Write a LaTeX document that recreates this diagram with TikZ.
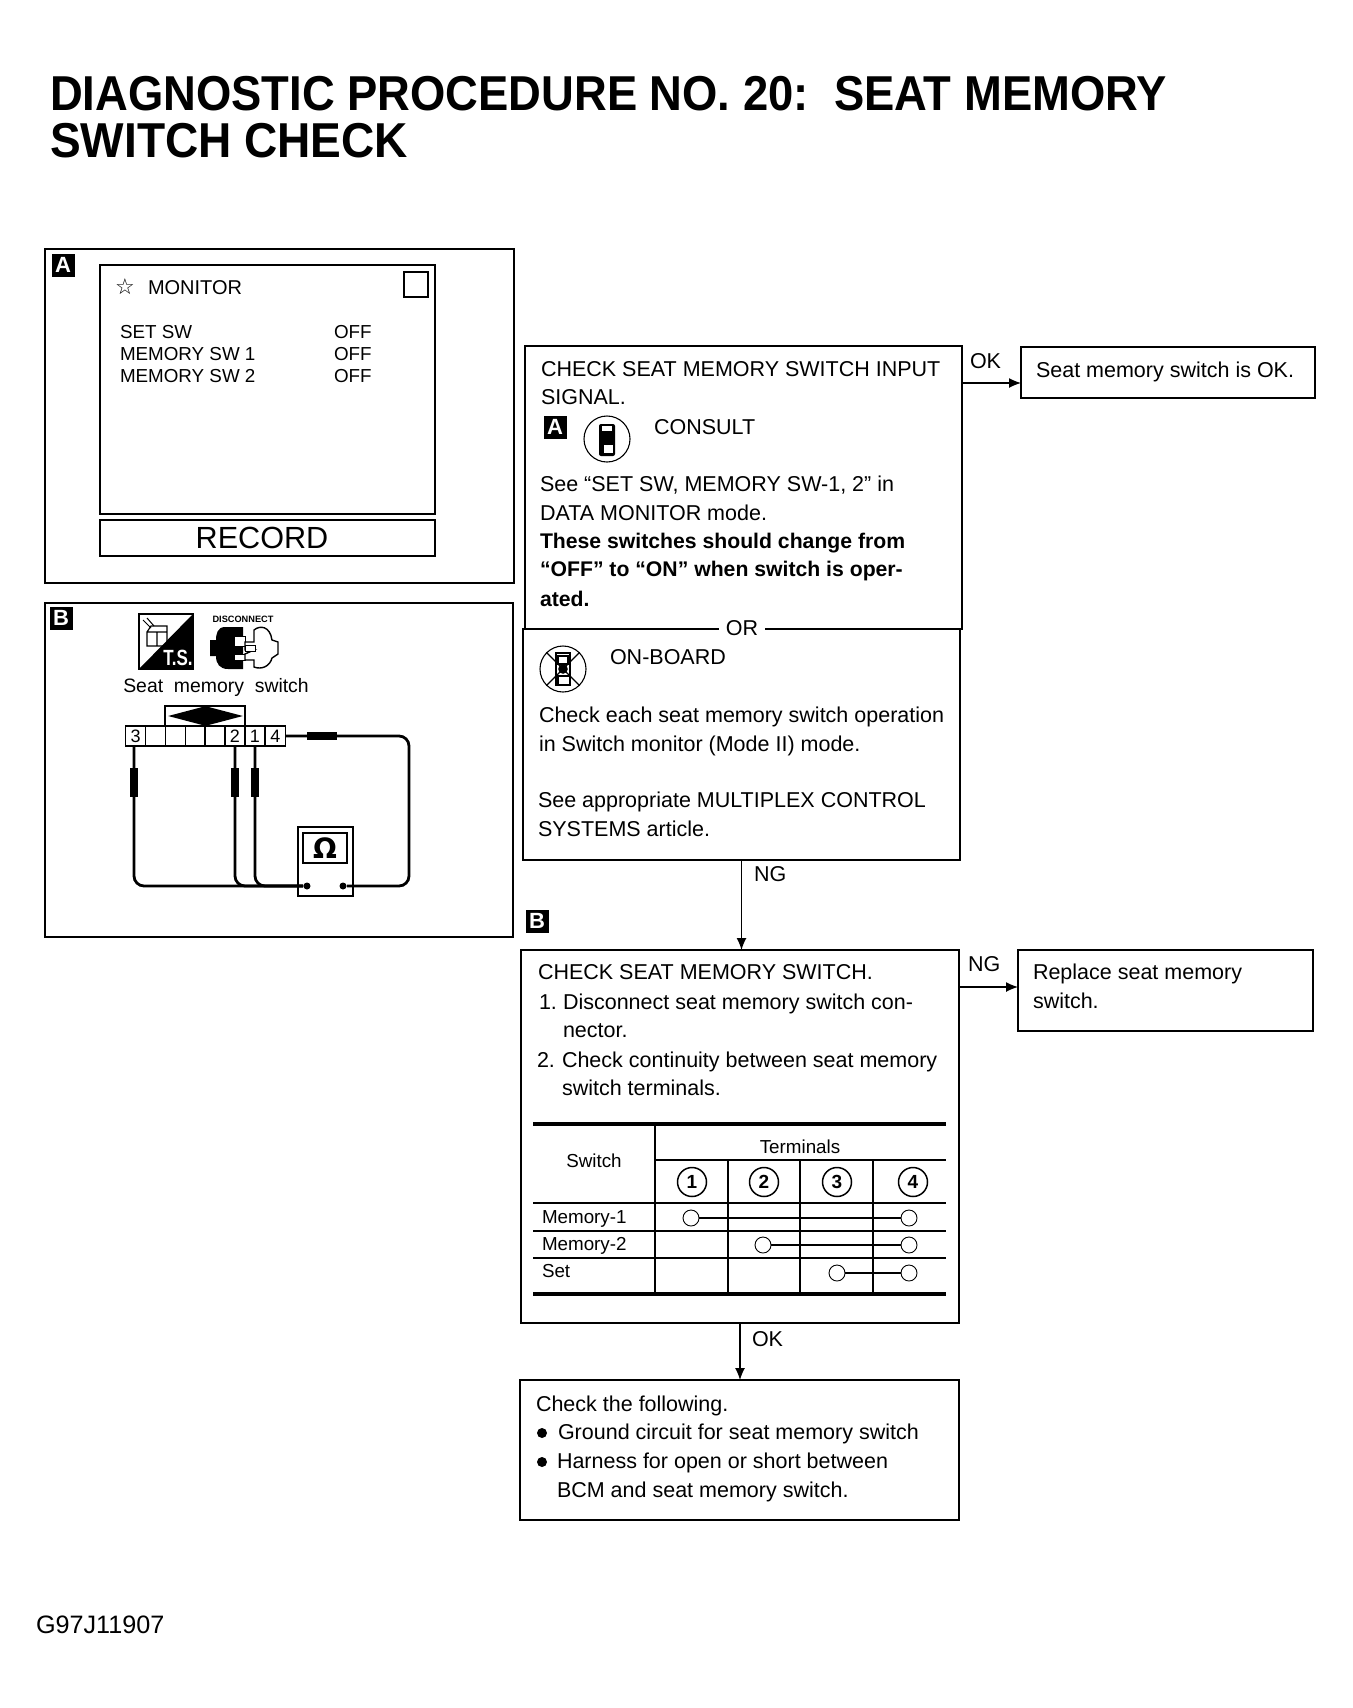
\documentclass[tikz,border=0pt]{standalone}
\usepackage{fontspec}
\setmainfont{Liberation Sans}
\newfontfamily\symfont{DejaVu Sans}
\usetikzlibrary{arrows.meta,calc,shapes.geometric}
\newcommand{\bx}[6][]{%
  \pgfmathsetmacro{\bxw}{(#5-#3)*0.5}\pgfmathsetmacro{\bxh}{(#6-#4)*0.5}%
  \node[boxn,minimum width=\bxw pt,minimum height=\bxh pt,#1] (#2) at ({(#3+#5)/2},{(#4+#6)/2}) {};}
\newcommand{\tx}[5][]{\node[txt,#1] (#2) at (#3,#4) {#5};}
\tikzset{
  boxn/.style={draw=black,line width=0.65pt,inner sep=0pt,outer sep=0pt,fill=none},
  txt/.style={anchor=base west,inner sep=0pt,outer sep=0pt,font=\fontsize{10.75}{13}\selectfont},
  bold/.style={font=\fontsize{10.6}{13}\selectfont\bfseries},
  small/.style={font=\fontsize{9.4}{11}\selectfont},
  ttl/.style={font=\fontsize{24.5}{28}\selectfont\bfseries},
  tag/.style={fill=black,text=white,font=\fontsize{11}{11}\selectfont\bfseries,minimum size=11.5pt,inner sep=0pt,outer sep=0pt},
  conn/.style={line width=0.65pt,-{Latex[length=6pt,width=5pt]}},
  tline/.style={line width=0.7pt},
  tthick/.style={line width=1.9pt},
  numc/.style={circle,draw=black,line width=0.75pt,minimum size=14.5pt,inner sep=0pt,font=\fontsize{9.5}{10}\selectfont\bfseries},
  open/.style={circle,draw=black,fill=white,line width=0.45pt,minimum size=8pt,inner sep=0pt},
  cell/.style={draw=black,line width=0.6pt,minimum width=10pt,minimum height=10pt,inner sep=0pt,outer sep=0pt,font=\fontsize{9}{9}\selectfont},
  wire/.style={line width=1.4pt,rounded corners=5pt},
  probev/.style={fill=black,minimum width=4pt,minimum height=14.5pt,inner sep=0pt},
  probeh/.style={fill=black,minimum width=15pt,minimum height=4pt,inner sep=0pt},
  term/.style={circle,fill=black,minimum size=3.5pt,inner sep=0pt},
}
\begin{document}
\begin{tikzpicture}[x=0.5pt,y=-0.5pt]
\useasboundingbox (0,0) rectangle (1353,1708);
\fill[white] (0,0) rectangle (1353,1708);

% title
\tx[ttl]{t1}{50}{110}{\scalebox{0.926}[1]{DIAGNOSTIC PROCEDURE NO. 20:\ \ SEAT MEMORY}}
\tx[ttl]{t2}{50}{157}{\scalebox{0.94}[1]{SWITCH CHECK}}

% panel A
\bx{panelA}{45}{249}{514}{583}
\node[tag] (tagA) at (63,265) {A};
\bx{screen}{100}{265}{435}{514}
\bx{chk}{404}{272}{428}{297}
\node[txt,anchor=center,font=\symfont\fontsize{11}{11}\selectfont] (star) at (125,287) {☆};
\tx[font=\fontsize{10}{12}\selectfont]{mon}{148}{294}{MONITOR}
\tx[small]{r1}{120}{338}{SET SW}
\tx[small]{r2}{120}{360}{MEMORY SW 1}
\tx[small]{r3}{120}{382}{MEMORY SW 2}
\tx[small]{o1}{334}{338}{OFF}
\tx[small]{o2}{334}{360}{OFF}
\tx[small]{o3}{334}{382}{OFF}
\bx{recbox}{100}{520}{435}{556}
\node[txt,anchor=center,font=\fontsize{15.3}{18}\selectfont] (rec) at (262,538) {RECORD};

% panel B
\bx{panelB}{45}{603}{513}{937}
\node[tag] (tagB) at (61,618) {B};
% T.S. icon
\draw[line width=0.6pt] (139,614) rectangle (193,669);
\fill (193,614) -- (193,669) -- (139,669) -- cycle;
\draw[line width=0.6pt] (147,632) rectangle (167,646) (157,632) -- (157,646) (147,632) -- (151,626) -- (167,626) -- (167,632);
\draw[line width=0.5pt] (143,620) -- (151,628) (147,618) -- (154,626);
\node[txt,anchor=center,text=white,font=\fontsize{10}{10}\selectfont\bfseries] (ts) at (178,658) {\scalebox{0.85}[1.1]{T.S.}};
% disconnect icon
\node[txt,anchor=center,font=\fontsize{4.6}{5}\selectfont\bfseries] (disc) at (243,619) {DISCONNECT};
\fill (243,627) -- (225,627) .. controls (217,627) and (216,635) .. (216,640) -- (210,640) -- (210,656) -- (216,656) .. controls (216,664) and (220,669) .. (228,669) -- (243,669) -- cycle;
\fill[white,draw=black,line width=0.5pt] (234,636) rectangle (245,646) (234,654) rectangle (245,660);
\draw[line width=0.7pt,fill=white] (245,642) -- (254,642) -- (254,630) .. controls (260,625) and (270,626) .. (272,640) -- (278,642) -- (278,654) -- (272,658) .. controls (270,666) and (262,670) .. (254,667) -- (254,660) -- (245,660) -- (245,654) -- (254,650) -- (245,650) -- cycle;
\draw[line width=0.5pt,fill=white] (245,645) rectangle (255,651);
\node[txt,anchor=base,font=\fontsize{9.7}{12}\selectfont] (seatl) at (216,692) {Seat\ \ memory\ \ switch};
% connector
\node[cell,minimum width=40pt,minimum height=10pt] (hood) at (205,716) {};
\node[diamond,fill=black,minimum width=37.5pt,minimum height=10pt,inner sep=0pt,shape aspect=3.75] (dia) at (205.5,716) {};
\node[cell] (c3) at (135.7,736) {3};
\node[cell] (cb1) at (155.5,736) {};
\node[cell] (cb2) at (175.3,736) {};
\node[cell] (cb3) at (195.2,736) {};
\node[cell] (cb4) at (215,736) {};
\node[cell] (c2) at (235,736) {2};
\node[cell] (c1) at (255,736) {1};
\node[cell] (c4) at (275.5,736) {4};
% meter
\bx{meter}{298}{827}{353}{896}
\bx{disp}{303}{833}{347}{863}
\node[txt,anchor=center,font=\symfont\fontsize{14}{14}\selectfont\bfseries] (ohm) at (325,848) {Ω};
\node[term] (m1) at (307,886) {};
\node[term] (m2) at (343,886) {};
% wires
\coordinate (w3) at (134,746);
\draw[wire] (w3) -- (w3 |- m1) -- (m1);
\draw[wire] (c2.south) -- (c2.south |- m1) -- (m1);
\draw[wire] (c1.south) -- (c1.south |- m1) -- (m1);
\draw[wire] (c4.east) -- (409,736) -- (409,886) -- (m2);
\node[probev] (p3) at (w3 |- 0,782) {};
\node[probev] (p2) at (c2 |- 0,782) {};
\node[probev] (p1) at (c1 |- 0,782) {};
\node[probeh] (p4) at (322,736) {};

% box 1
\bx{boxa}{525}{346}{962}{629}
\bx{boxb}{523}{629}{960}{860}
\tx{a1}{541}{376}{CHECK SEAT MEMORY SWITCH INPUT}
\tx{a2}{541}{404}{SIGNAL.}
\node[tag] (tagA2) at (555,427) {A};
\node[circle,draw=black,line width=0.55pt,minimum size=23pt,inner sep=0pt] (cons) at (607,439) {};
\fill[rounded corners=1pt] (599,424) rectangle (615,456);
\fill[white] (602,426) rectangle (612,431);
\fill[white] (604,445) rectangle (613,453);
\fill (607,439) circle (3pt);
\tx{a3}{654}{434}{CONSULT}
\tx{a4}{540}{491}{See “SET SW, MEMORY SW-1, 2” in}
\tx{a5}{540}{520}{DATA MONITOR mode.}
\tx[bold]{a6}{540}{548}{These switches should change from}
\tx[bold]{a7}{540}{576}{“OFF” to “ON” when switch is oper-}
\tx[bold]{a8}{540}{606}{ated.}
\node[txt,anchor=base,fill=white,inner xsep=3.5pt,inner ysep=2pt] (orl) at (742,635) {OR};
\node[circle,draw=black,line width=0.55pt,minimum size=23pt,inner sep=0pt] (onb) at (563,669) {};
\draw[line width=0.55pt] (556,653) rectangle (570,685) (558,656) rectangle (568,664) (558,676) rectangle (570,685);
\fill (563,669) circle (2.4pt);
\draw[line width=0.55pt] (onb.north west) -- (onb.south east) (onb.north east) -- (onb.south west);
\tx{b1}{610}{664}{ON-BOARD}
\tx{b2}{539}{722}{Check each seat memory switch operation}
\tx{b3}{539}{751}{in Switch monitor (Mode II) mode.}
\tx{b4}{538}{807}{See appropriate MULTIPLEX CONTROL}
\tx{b5}{538}{836}{SYSTEMS article.}

% OK box
\bx{okb}{1021}{347}{1315}{398}
\tx{okt}{1036}{377}{Seat memory switch is OK.}
\coordinate (okin) at (1021,383);
\draw[conn] (okin -| boxa.east) -- (okin);
\tx{okl}{970}{368}{OK}

% NG 1
\draw[conn] (boxb.south) -- (boxb.south |- 0,950);
\tx{ngl1}{754}{881}{NG}
\node[tag] (tagB2) at (537,921) {B};

% box 2
\bx{boxc}{521}{950}{959}{1323}
\tx{c11}{538}{979}{CHECK SEAT MEMORY SWITCH.}
\tx{c12}{539}{1009}{1.}
\tx{c13}{563}{1009}{Disconnect seat memory switch con-}
\tx{c14}{563}{1037}{nector.}
\tx{c15}{537}{1067}{2.}
\tx{c16}{562}{1067}{Check continuity between seat memory}
\tx{c17}{562}{1095}{switch terminals.}

% table
\coordinate (tl) at (533,1124);
\coordinate (tr) at (946,1124);
\draw[tthick] (tl) -- (tr);
\draw[tthick] (533,1294) -- (946,1294);
\draw[tline] (655,1160) -- (946,1160);
\draw[tline] (533,1203) -- (946,1203);
\draw[tline] (533,1231) -- (946,1231);
\draw[tline] (533,1258) -- (946,1258);
\draw[tline] (655,1124) -- (655,1294);
\draw[tline] (728,1160) -- (728,1294);
\draw[tline] (800,1160) -- (800,1294);
\draw[tline] (873,1160) -- (873,1294);
\node[txt,anchor=center,small] (sw) at (594,1161) {Switch};
\node[txt,anchor=center,small] (te) at (800,1147) {Terminals};
\node[numc] (n1) at (692,1182) {1};
\node[numc] (n2) at (764,1182) {2};
\node[numc] (n3) at (837,1182) {3};
\node[numc] (n4) at (913,1182) {4};
\tx[small]{m1t}{542}{1223}{Memory-1}
\tx[small]{m2t}{542}{1250}{Memory-2}
\tx[small]{m3t}{542}{1277}{Set}
\node[open] (a1c) at (691,1218) {};
\node[open] (a4c) at (909,1218) {};
\node[open] (b2c) at (763,1245) {};
\node[open] (b4c) at (909,1245) {};
\node[open] (d3c) at (837,1273) {};
\node[open] (d4c) at (909,1273) {};
\draw[line width=0.7pt] (a1c) -- (a4c);
\draw[line width=0.6pt] (b2c) -- (b4c);
\draw[line width=0.7pt] (d3c) -- (d4c);

% replace box
\bx{repb}{1018}{950}{1313}{1031}
\tx{re1}{1033}{979}{Replace seat memory}
\tx{re2}{1033}{1008}{switch.}
\coordinate (repin) at (1018,987);
\draw[conn] (repin -| boxc.east) -- (repin);
\tx{ngl2}{968}{971}{NG}

% final
\bx{boxd}{520}{1380}{959}{1520}
\draw[conn] (boxc.south) -- (boxc.south |- boxd.north);
\tx{okl2}{752}{1346}{OK}
\tx{d1}{536}{1411}{Check the following.}
\node[circle,fill=black,minimum size=5pt,inner sep=0pt] (bu1) at (542,1433) {};
\tx{d2}{558}{1439}{Ground circuit for seat memory switch}
\node[circle,fill=black,minimum size=5pt,inner sep=0pt] (bu2) at (542,1462) {};
\tx{d3}{557}{1468}{Harness for open or short between}
\tx{d4}{557}{1497}{BCM and seat memory switch.}

\tx[font=\fontsize{12.6}{14}\selectfont]{code}{36}{1633}{G97J11907}

% OR divider rules
\draw[line width=0.65pt] (boxa.south west) -- (orl.west |- boxa.south);
\draw[line width=0.65pt] (orl.east |- boxa.south) -- (boxa.south east);
\end{tikzpicture}
\end{document}
